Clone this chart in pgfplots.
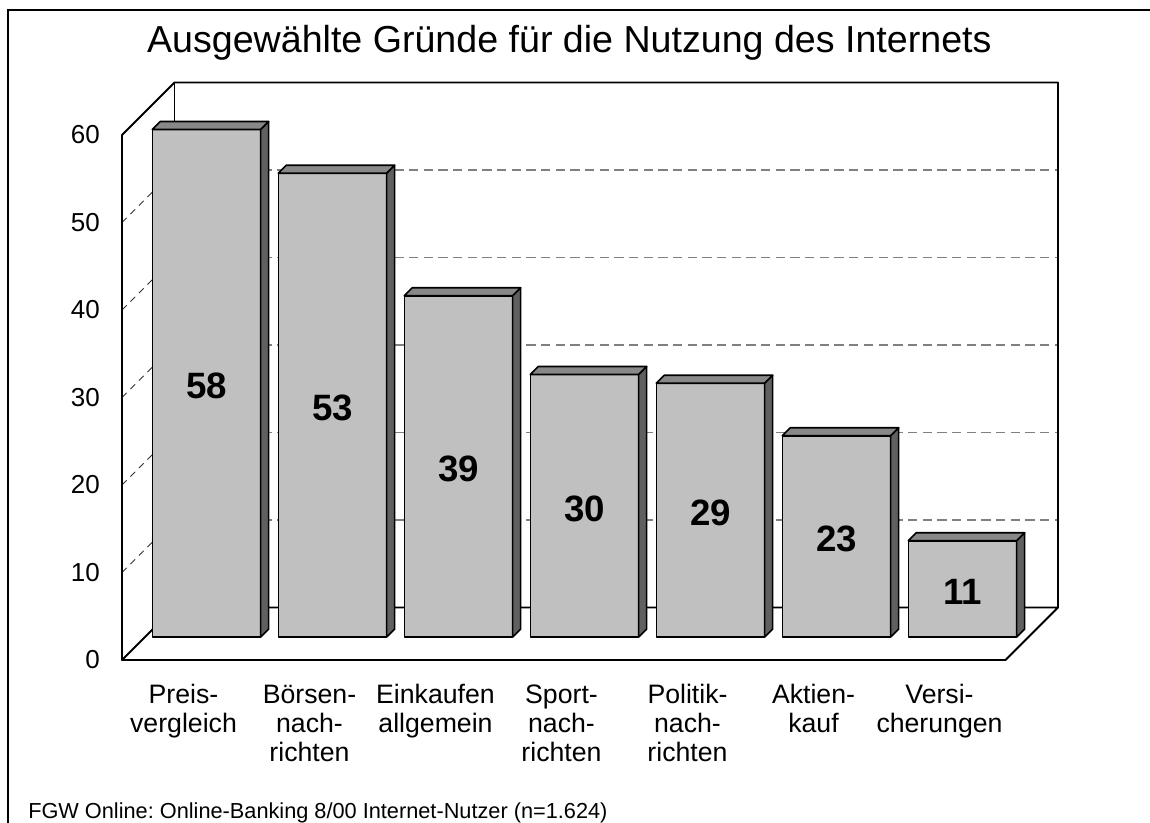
\documentclass[border=0pt]{standalone}
\usepackage{pgfplots}
\usepackage{pgfplotstable}
\pgfplotsset{compat=1.18}
\usepackage{fontspec}
\setmainfont{Liberation Sans}
\frenchspacing
\definecolor{barfront}{HTML}{C0C0C0}
\definecolor{bartop}{HTML}{888888}
\definecolor{barside}{HTML}{606060}
\definecolor{gridgray}{HTML}{808080}
\newcommand{\lbl}[1]{\begin{tabular}[t]{@{}c@{}}#1\end{tabular}}

\pgfplotstableread{
x v
0 58
1 53
2 39
3 30
4 29
5 23
6 11
}\bardata

\begin{document}
\begin{tikzpicture}
\useasboundingbox (0,0) rectangle (862.5pt,-616.5pt);
\draw[line width=1.6pt] (870pt,-7.5pt) -- (6pt,-7.5pt) -- (6pt,-630pt);
\node[anchor=base, inner sep=0pt, font=\fontsize{28.2pt}{32pt}\selectfont] at (427pt,-39pt) {Ausgewählte Gründe für die Nutzung des Internets};
\node[anchor=base west, inner sep=0pt, font=\fontsize{16.3pt}{19pt}\selectfont] at (21pt,-613.5pt) {FGW Online: Online-Banking 8/00 Internet-Nutzer (n=1.624)};
\begin{axis}[
  at={(91.5pt,-495pt)}, anchor=south west,
  x=94.5pt, y=6.5625pt,
  xmin=-0.6706, xmax=6.7579, ymin=-2.6286, ymax=63.3714,
  clip=false,
  axis line style={draw=none},
  major tick length=0pt,
  ytick={-2.6286,7.3714,17.3714,27.3714,37.3714,47.3714,57.3714},
  yticklabels={0,10,20,30,40,50,60},
  xtick={-0.1825,0.8175,1.8175,2.8175,3.8175,4.8175,5.8175},
  xticklabels={{\lbl{Preis-\\vergleich}},{\lbl{Börsen-\\nach-\\richten}},{\lbl{Einkaufen\\allgemein}},{\lbl{Sport-\\nach-\\richten}},{\lbl{Politik-\\nach-\\richten}},{\lbl{Aktien-\\kauf}},{\lbl{Versi-\\cherungen}}},
  yticklabel style={font=\fontsize{19.5pt}{21pt}\selectfont, inner sep=0pt, anchor=east, xshift=-16.5pt},
  xticklabel style={font=\fontsize{20pt}{21.75pt}\selectfont, inner sep=0pt, anchor=base, yshift=-32.25pt},
  /pgf/number format/assume math mode=true,
  line join=round,
]
% back wall gridlines
\addplot[gridgray, line width=1.1pt, dash pattern=on 7pt off 4pt] coordinates {(-0.254,13.3714) (6.7579,13.3714)};
\addplot[gridgray, line width=1.1pt, dash pattern=on 7pt off 4pt] coordinates {(-0.254,23.3714) (6.7579,23.3714)};
\addplot[gridgray, line width=1.1pt, dash pattern=on 7pt off 4pt] coordinates {(-0.254,33.3714) (6.7579,33.3714)};
\addplot[gridgray, line width=1.1pt, dash pattern=on 7pt off 4pt] coordinates {(-0.254,43.3714) (6.7579,43.3714)};
\addplot[gridgray, line width=1.1pt, dash pattern=on 7pt off 4pt] coordinates {(-0.254,53.3714) (6.7579,53.3714)};
% left wall gridlines
\addplot[black!80, line width=0.6pt, dash pattern=on 5pt off 4pt] coordinates {(-0.6706,7.3714) (-0.254,13.3714)};
\addplot[black!80, line width=0.6pt, dash pattern=on 5pt off 4pt] coordinates {(-0.6706,17.3714) (-0.254,23.3714)};
\addplot[black!80, line width=0.6pt, dash pattern=on 5pt off 4pt] coordinates {(-0.6706,27.3714) (-0.254,33.3714)};
\addplot[black!80, line width=0.6pt, dash pattern=on 5pt off 4pt] coordinates {(-0.6706,37.3714) (-0.254,43.3714)};
\addplot[black!80, line width=0.6pt, dash pattern=on 5pt off 4pt] coordinates {(-0.6706,47.3714) (-0.254,53.3714)};
% frame
\addplot[black, line width=1.4pt] coordinates {(-0.6706,-2.6286) (-0.6706,57.3714) (-0.254,63.3714) (6.7579,63.3714) (6.7579,3.3714)};
\addplot[black, line width=1.4pt] coordinates {(-0.254,63.3714) (-0.254,3.3714)};
\addplot[black, line width=1.4pt] coordinates {(-0.6706,-2.6286) (6.3413,-2.6286) (6.7579,3.3714) (-0.254,3.3714)} -- cycle;
% bars: front faces
\addplot[ybar, bar width=0.86, bar shift=0pt, fill=barfront, draw=black, line width=1.2pt] table[x=x, y=v] {\bardata};
% top faces
\addplot[fill=bartop, draw=black, line width=1.2pt] coordinates {(-0.43,58) (0.43,58) (0.4935,58.914) (-0.3665,58.914)} -- cycle;
\addplot[fill=bartop, draw=black, line width=1.2pt] coordinates {(0.57,53) (1.43,53) (1.4935,53.914) (0.6335,53.914)} -- cycle;
\addplot[fill=bartop, draw=black, line width=1.2pt] coordinates {(1.57,39) (2.43,39) (2.4935,39.914) (1.6335,39.914)} -- cycle;
\addplot[fill=bartop, draw=black, line width=1.2pt] coordinates {(2.57,30) (3.43,30) (3.4935,30.914) (2.6335,30.914)} -- cycle;
\addplot[fill=bartop, draw=black, line width=1.2pt] coordinates {(3.57,29) (4.43,29) (4.4935,29.914) (3.6335,29.914)} -- cycle;
\addplot[fill=bartop, draw=black, line width=1.2pt] coordinates {(4.57,23) (5.43,23) (5.4935,23.914) (4.6335,23.914)} -- cycle;
\addplot[fill=bartop, draw=black, line width=1.2pt] coordinates {(5.57,11) (6.43,11) (6.4935,11.914) (5.6335,11.914)} -- cycle;
% side faces
\addplot[fill=barside, draw=black, line width=1.2pt] coordinates {(0.43,0) (0.43,58) (0.4935,58.914) (0.4935,0.914)} -- cycle;
\addplot[fill=barside, draw=black, line width=1.2pt] coordinates {(1.43,0) (1.43,53) (1.4935,53.914) (1.4935,0.914)} -- cycle;
\addplot[fill=barside, draw=black, line width=1.2pt] coordinates {(2.43,0) (2.43,39) (2.4935,39.914) (2.4935,0.914)} -- cycle;
\addplot[fill=barside, draw=black, line width=1.2pt] coordinates {(3.43,0) (3.43,30) (3.4935,30.914) (3.4935,0.914)} -- cycle;
\addplot[fill=barside, draw=black, line width=1.2pt] coordinates {(4.43,0) (4.43,29) (4.4935,29.914) (4.4935,0.914)} -- cycle;
\addplot[fill=barside, draw=black, line width=1.2pt] coordinates {(5.43,0) (5.43,23) (5.4935,23.914) (5.4935,0.914)} -- cycle;
\addplot[fill=barside, draw=black, line width=1.2pt] coordinates {(6.43,0) (6.43,11) (6.4935,11.914) (6.4935,0.914)} -- cycle;
% value labels
\addplot[draw=none, nodes near coords, point meta=explicit, nodes near coords align=center,
  every node near coord/.append style={font=\bfseries\fontsize{27.5pt}{30pt}\selectfont, inner sep=0pt, anchor=center, yshift=-2pt}]
  table[x=x, y expr=\thisrow{v}/2, meta=v] {\bardata};
\end{axis}
\end{tikzpicture}
\end{document}
